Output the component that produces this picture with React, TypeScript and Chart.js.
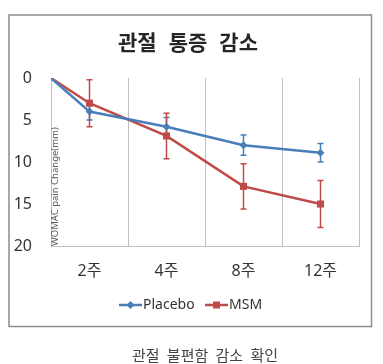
import React, { useEffect, useRef } from "react";
import { Chart, registerables } from "chart.js";

Chart.register(...registerables);

// ---- data ----
const categories = ["2주", "4주", "8주", "12주"];
const categoryPositions = [0.5, 1.5, 2.5, 3.5];
const pointX = [0, 0.5, 1.5, 2.5, 3.5];
const seriesNames = ["Placebo", "MSM"];
const placeboValues = [0, 4, 5.8, 8, 8.9];
const placeboErrors = [0, 1, 1.1, 1.2, 1.1];
const msmValues = [0, 3, 6.9, 12.9, 15];
const msmErrors = [0, 2.8, 2.7, 2.7, 2.8];
const yTickValues = [0, 5, 10, 15, 20];
const chartTitle = "관절 통증 감소";
const yAxisTitle = "WOMAC pain Change(mm)";
const caption = "관절 불편함 감소 확인";

const BLUE = "#4a7ebb";
const RED = "#be4b48";
const LATIN = '"Noto Sans", "Noto Sans CJK KR", sans-serif';
const KOREAN = '"Noto Sans CJK KR", "Noto Sans", sans-serif';

function drawSpaced(ctx: CanvasRenderingContext2D, text: string, cx: number, cy: number, total: number) {
  const words = text.split(" ");
  const widths = words.map((w) => ctx.measureText(w).width);
  const sum = widths.reduce((a, b) => a + b, 0);
  const gap = words.length > 1 ? (total - sum) / (words.length - 1) : 0;
  let x = cx - total / 2;
  ctx.textAlign = "left";
  ctx.textBaseline = "middle";
  words.forEach((w, i) => {
    ctx.fillText(w, x, cy);
    x += widths[i] + gap;
  });
}

function drawMarker(ctx: CanvasRenderingContext2D, style: string, x: number, y: number, color: string) {
  ctx.save();
  ctx.fillStyle = color;
  ctx.beginPath();
  if (style === "rectRot") {
    const r = 4;
    ctx.moveTo(x, y - r);
    ctx.lineTo(x + r, y);
    ctx.lineTo(x, y + r);
    ctx.lineTo(x - r, y);
    ctx.closePath();
  } else {
    const s = 3.5;
    ctx.rect(x - s, y - s, 2 * s, 2 * s);
  }
  ctx.fill();
  ctx.restore();
}

const decorPlugin = {
  id: "decor",
  beforeDatasetsDraw(chart: any) {
    const ctx = chart.ctx as CanvasRenderingContext2D;
    const xs = chart.scales.x;
    const ys = chart.scales.y;
    chart.data.datasets.forEach((ds: any) => {
      const errs: number[] = ds.errors;
      ctx.save();
      ctx.strokeStyle = ds.borderColor;
      ctx.lineWidth = 1.5;
      ds.data.forEach((p: any, i: number) => {
        const e = errs[i];
        if (!e) return;
        const px = xs.getPixelForValue(p.x);
        const y1 = ys.getPixelForValue(p.y - e);
        const y2 = ys.getPixelForValue(p.y + e);
        ctx.beginPath();
        ctx.moveTo(px, y1);
        ctx.lineTo(px, y2);
        ctx.moveTo(px - 3, y1);
        ctx.lineTo(px + 3, y1);
        ctx.moveTo(px - 3, y2);
        ctx.lineTo(px + 3, y2);
        ctx.stroke();
      });
      ctx.restore();
    });
  },
  afterDraw(chart: any) {
    const ctx = chart.ctx as CanvasRenderingContext2D;
    const area = chart.chartArea;
    ctx.save();
    // outer box
    ctx.strokeStyle = "#8c8c8c";
    ctx.lineWidth = 1.5;
    ctx.strokeRect(9, 15, 362.5, 311.5);

    // title
    ctx.fillStyle = "#262626";
    ctx.font = `bold 21px ${KOREAN}`;
    drawSpaced(ctx, chartTitle, 188, 42, 140);

    // y-axis title inside plot
    ctx.save();
    ctx.translate(area.left + 4.5, area.bottom);
    ctx.rotate(-Math.PI / 2);
    ctx.font = `9.5px ${LATIN}`;
    ctx.fillStyle = "#595959";
    ctx.textAlign = "left";
    ctx.textBaseline = "middle";
    ctx.fillText(yAxisTitle, 0, 0);
    ctx.restore();

    // legend
    const ly = 305;
    const items = [
      { name: seriesNames[0], color: BLUE, style: "rectRot", x1: 119, x2: 142 },
      { name: seriesNames[1], color: RED, style: "rect", x1: 205, x2: 228 },
    ];
    ctx.font = `14px ${LATIN}`;
    items.forEach((it) => {
      ctx.strokeStyle = it.color;
      ctx.lineWidth = 2.5;
      ctx.beginPath();
      ctx.moveTo(it.x1, ly);
      ctx.lineTo(it.x2, ly);
      ctx.stroke();
      drawMarker(ctx, it.style, (it.x1 + it.x2) / 2, ly, it.color);
      ctx.fillStyle = "#333333";
      ctx.textAlign = "left";
      ctx.textBaseline = "middle";
      ctx.fillText(it.name, it.x2 + 1, ly);
    });

    // caption below the box
    ctx.fillStyle = "#444444";
    ctx.font = `15px ${KOREAN}`;
    drawSpaced(ctx, caption, 205, 355, 146);
    ctx.restore();
  },
};

export default function App() {
  const canvasRef = useRef<HTMLCanvasElement | null>(null);

  useEffect(() => {
    const canvas = canvasRef.current;
    if (!canvas) return;
    const chart = new Chart(canvas, {
      type: "line",
      data: {
        datasets: [
          {
            label: seriesNames[0],
            data: pointX.map((x, i) => ({ x, y: placeboValues[i] })),
            errors: placeboErrors,
            borderColor: BLUE,
            backgroundColor: BLUE,
            borderWidth: 2.5,
            pointStyle: "rectRot",
            pointRadius: pointX.map((_, i) => (i === 0 ? 0 : 4)),
            pointBorderWidth: 0,
            tension: 0,
          } as any,
          {
            label: seriesNames[1],
            data: pointX.map((x, i) => ({ x, y: msmValues[i] })),
            errors: msmErrors,
            borderColor: RED,
            backgroundColor: RED,
            borderWidth: 2.5,
            pointStyle: "rect",
            pointRadius: pointX.map((_, i) => (i === 0 ? 0 : 5)),
            pointBorderWidth: 0,
            tension: 0,
          } as any,
        ],
      },
      options: {
        responsive: false,
        animation: false,
        devicePixelRatio: 1,
        layout: { padding: { left: 0, top: 78, right: 24, bottom: 78 } },
        plugins: {
          legend: { display: false },
          title: { display: false },
          tooltip: { enabled: false },
        },
        scales: {
          x: {
            type: "linear",
            min: 0,
            max: 4,
            afterBuildTicks: (s: any) => {
              s.ticks = categoryPositions.map((v) => ({ value: v }));
            },
            afterFit: (s: any) => {
              s.height = 40;
            },
            ticks: {
              autoSkip: false,
              maxRotation: 0,
              padding: 16,
              color: "#333333",
              font: { family: LATIN, size: 16 },
              callback: (_v: any, i: number) => categories[i],
            },
            grid: { offset: true, color: "#bfbfbf", lineWidth: 1, drawTicks: false },
            border: { display: true, color: "#bfbfbf", width: 1 },
          },
          y: {
            type: "linear",
            min: 0,
            max: 20,
            reverse: true,
            afterBuildTicks: (s: any) => {
              s.ticks = yTickValues.map((v) => ({ value: v }));
            },
            afterFit: (s: any) => {
              s.width = 51;
            },
            ticks: {
              padding: 19,
              color: "#333333",
              font: { family: LATIN, size: 16 },
            },
            grid: { display: false, drawTicks: false },
            border: { display: true, color: "#bfbfbf", width: 1 },
          },
        },
      } as any,
      plugins: [decorPlugin],
    });
    return () => chart.destroy();
  }, []);

  return (
    <div style={{ position: "absolute", left: 0, top: 0, width: 383, height: 364, background: "#fff" }}>
      <canvas ref={canvasRef} width={383} height={364} style={{ display: "block" }} />
    </div>
  );
}
